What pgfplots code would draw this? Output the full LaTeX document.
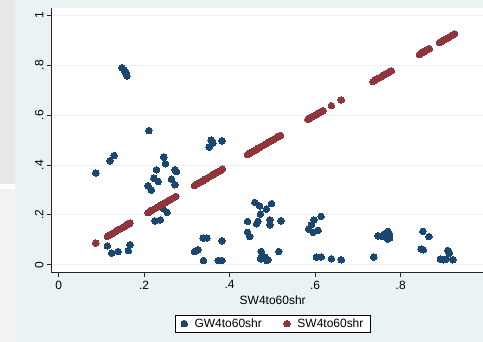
\documentclass[border=0pt]{standalone}
\usepackage{pgfplots}
\pgfplotsset{compat=1.18}
\usepackage{fontspec}
\setmainfont{Liberation Sans}
\definecolor{stblue}{HTML}{1A476F}
\definecolor{stred}{HTML}{90353B}
\definecolor{bgblue}{HTML}{EAF2F3}
\begin{document}
\begin{tikzpicture}
\fill[bgblue] (0pt,0pt) rectangle (483pt,342pt);
\fill[black!9] (0pt,158pt) rectangle (15pt,342pt);
\fill[white] (0pt,153pt) rectangle (15pt,158pt);
\fill[black!5] (0pt,0pt) rectangle (15pt,153pt);
\fill[white] (51.5pt,69pt) rectangle (483pt,334pt);
\begin{axis}[
  at={(51.5pt,69pt)}, anchor=south west,
  scale only axis, width=431.5pt, height=265pt,
  xmin=-0.0168, xmax=0.9914, ymin=-0.032, ymax=1.030,
  axis lines*=left,
  axis line style={-, black!85, line width=1pt},
  xtick={0,0.2,0.4,0.6,0.8}, xticklabels={0,.2,.4,.6,.8},
  ytick={0,0.2,0.4,0.6,0.8,1}, yticklabels={0,.2,.4,.6,.8,1},
  tick align=outside, major tick length=4.5pt,
  tick style={black!85, line width=0.8pt},
  ymajorgrids, grid style={bgblue, line width=1pt},
  ticklabel style={font=\fontsize{12}{14}\selectfont},
  yticklabel style={rotate=90, anchor=south},
  /pgf/number format/assume math mode=true,
  xlabel={SW4to60shr},
  xlabel style={at={(axis description cs:0.5133,-0.102)}, anchor=center, font=\fontsize{12}{14}\selectfont},
  legend columns=2,
  legend style={at={(axis description cs:0.5133,-0.1925)}, anchor=center,
    draw=black, line width=0.6pt, fill=white,
    font=\fontsize{12}{14}\selectfont,
    inner xsep=5pt, inner ysep=2pt,
    nodes={inner sep=1.5pt},
    /tikz/every even column/.append style={column sep=20pt}},
  legend image code/.code={\draw[#1] plot[only marks] coordinates {(3.5pt,0pt)}; \path (0pt,0pt) (12pt,0pt);},
]
\addplot[only marks, mark=*, mark size=3.3pt, color=stblue, mark options={fill=stblue, draw=stblue, line width=0pt}] coordinates {
(0.087,0.368) (0.114,0.076) (0.120,0.417) (0.124,0.047) (0.130,0.438) (0.139,0.053)
(0.148,0.790) (0.153,0.782) (0.155,0.774) (0.157,0.770) (0.160,0.757) (0.163,0.057) (0.167,0.080)
(0.209,0.317) (0.211,0.538) (0.217,0.300) (0.223,0.347) (0.225,0.176) (0.229,0.381) (0.233,0.334)
(0.238,0.180) (0.244,0.227) (0.246,0.432) (0.250,0.405) (0.254,0.210) (0.264,0.343) (0.272,0.381)
(0.276,0.374) (0.272,0.321)
(0.318,0.053) (0.326,0.060) (0.338,0.107) (0.347,0.107) (0.339,0.017) (0.352,0.472) (0.357,0.500)
(0.361,0.488) (0.373,0.017) (0.382,0.017) (0.382,0.096) (0.382,0.497)
(0.442,0.174) (0.442,0.130) (0.447,0.113) (0.459,0.250) (0.463,0.164) (0.466,0.174) (0.470,0.236)
(0.472,0.203) (0.474,0.053) (0.473,0.023) (0.474,0.029) (0.482,0.031) (0.487,0.017) (0.490,0.020)
(0.486,0.223) (0.494,0.180) (0.494,0.160) (0.498,0.245) (0.515,0.053) (0.520,0.176)
(0.585,0.143) (0.591,0.160) (0.595,0.130) (0.597,0.180) (0.607,0.138) (0.614,0.194) (0.603,0.031)
(0.614,0.031) (0.638,0.024) (0.661,0.020)
(0.737,0.031) (0.747,0.116) (0.758,0.113) (0.762,0.124) (0.770,0.134) (0.774,0.120) (0.770,0.103)
(0.774,0.107)
(0.852,0.134) (0.866,0.113) (0.848,0.063) (0.853,0.060) (0.910,0.057) (0.914,0.047) (0.893,0.023)
(0.901,0.020) (0.907,0.023) (0.922,0.020)
};
\addlegendentry{GW4to60shr}
\addplot[only marks, mark=*, mark size=3.3pt, color=stred, mark options={fill=stred, draw=stred, line width=0pt}] coordinates {
(0.087,0.087)
(0.114,0.114) (0.119,0.119) (0.124,0.124) (0.129,0.129) (0.134,0.134) (0.139,0.139) (0.144,0.144)
(0.149,0.149) (0.154,0.154) (0.159,0.159) (0.163,0.163) (0.167,0.167)
(0.209,0.209) (0.214,0.214) (0.219,0.219) (0.224,0.224) (0.229,0.229) (0.234,0.234) (0.239,0.239)
(0.244,0.244) (0.249,0.249) (0.254,0.254) (0.259,0.259) (0.264,0.264) (0.269,0.269) (0.274,0.274)
(0.318,0.318) (0.323,0.323) (0.328,0.328) (0.333,0.333) (0.338,0.338) (0.343,0.343) (0.348,0.348)
(0.353,0.353) (0.358,0.358) (0.363,0.363) (0.368,0.368) (0.373,0.373) (0.378,0.378) (0.383,0.383)
(0.442,0.442) (0.447,0.447) (0.452,0.452) (0.457,0.457) (0.462,0.462) (0.467,0.467) (0.472,0.472)
(0.477,0.477) (0.482,0.482) (0.487,0.487) (0.492,0.492) (0.497,0.497) (0.502,0.502) (0.507,0.507)
(0.512,0.512) (0.516,0.516) (0.519,0.519)
(0.583,0.583) (0.588,0.588) (0.593,0.593) (0.598,0.598) (0.603,0.603) (0.608,0.608) (0.613,0.613)
(0.618,0.618) (0.638,0.638) (0.661,0.661)
(0.735,0.735) (0.740,0.740) (0.745,0.745) (0.750,0.750) (0.755,0.755) (0.760,0.760) (0.765,0.765)
(0.770,0.770) (0.774,0.774) (0.778,0.778)
(0.844,0.844) (0.849,0.849) (0.853,0.853) (0.857,0.857) (0.862,0.862) (0.867,0.867)
(0.891,0.891) (0.896,0.896) (0.901,0.901) (0.906,0.906) (0.911,0.911) (0.916,0.916) (0.921,0.921)
(0.926,0.926)
};
\addlegendentry{SW4to60shr}
\end{axis}
\end{tikzpicture}
\end{document}
